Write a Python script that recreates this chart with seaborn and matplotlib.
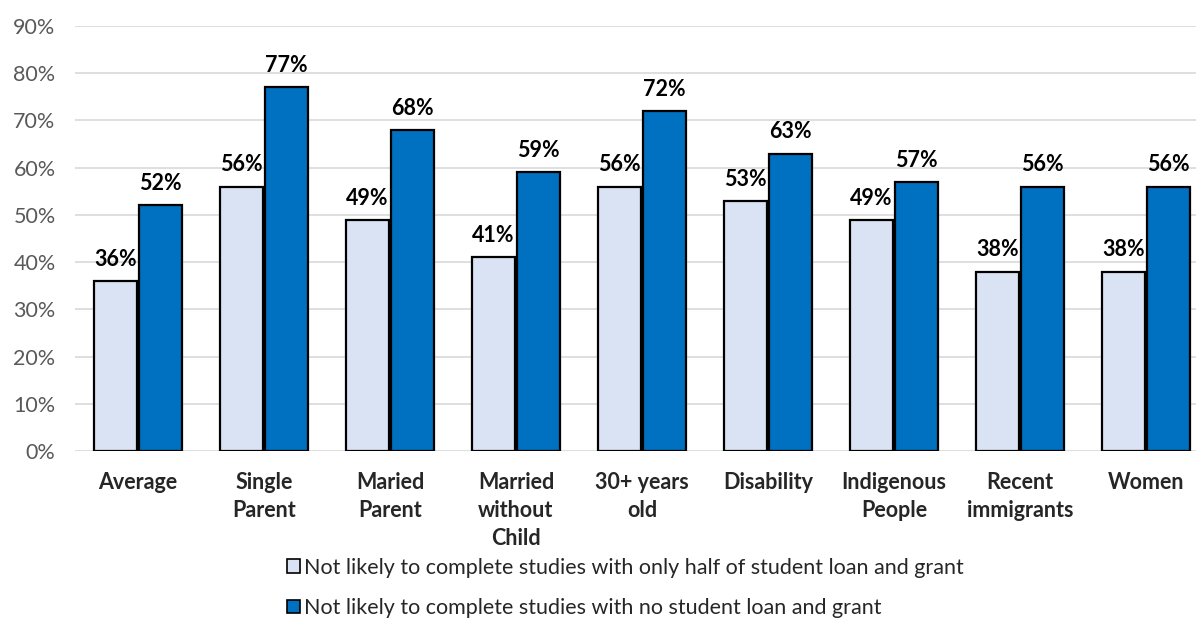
import pandas as pd
import numpy as np
import matplotlib.pyplot as plt
import seaborn as sns
from matplotlib.patches import Patch

# data
categories = ["Average", "Single\nParent", "Maried\nParent", "Married\nwithout\nChild",
              "30+ years\nold", "Disability", "Indigenous\nPeople", "Recent\nimmigrants", "Women"]
half_loan = [36, 56, 49, 41, 56, 53, 49, 38, 38]
no_loan = [52, 77, 68, 59, 72, 63, 57, 56, 56]
series_names = ["Not likely to complete studies with only half of student loan and grant",
                "Not likely to complete studies with no student loan and grant"]
colors = ["#DAE3F3", "#0070C0"]

df = pd.DataFrame({
    "cat": categories * 2,
    "val": half_loan + no_loan,
    "series": [series_names[0]] * len(categories) + [series_names[1]] * len(categories),
})

sns.set_style("white")
plt.rcParams['font.family'] = ['Lato', 'DejaVu Sans']

fig = plt.figure(figsize=(11.96, 6.18), dpi=100)
ax = fig.add_axes([75/1196, 1 - 451/618, (1209 - 75)/1196, (451 - 26)/618])

sns.barplot(data=df, x="cat", y="val", hue="series", palette=colors, saturation=1,
            width=0.72, gap=0.06, edgecolor="black", linewidth=1.6,
            legend=False, ax=ax, zorder=3)

for c in ax.containers:
    ax.bar_label(c, labels=[f"{v:.0f}%" for v in c.datavalues], padding=8,
                 fontsize=15.5, fontweight="bold", color="black")

ax.set_ylim(0, 90)
ax.set_xlim(-0.5, 8.5)
ax.set_yticks(range(0, 91, 10))
ax.set_yticklabels([f"{t}%" for t in range(0, 91, 10)], fontsize=15.5, color="#595959")
ax.set_xticks(range(len(categories)))
ax.set_xticklabels(categories, fontsize=15.5, fontweight="bold", linespacing=1.42)
ax.tick_params(axis="both", length=0)
ax.tick_params(axis="x", pad=15)
ax.tick_params(axis="y", pad=14)
ax.yaxis.grid(True, color="#D9D9D9", linewidth=1.2, zorder=0)
ax.set_axisbelow(True)
ax.set_xlabel("")
ax.set_ylabel("")
sns.despine(ax=ax, left=True, bottom=True)

handles = [Patch(facecolor=colors[0], edgecolor="black", linewidth=1.2),
           Patch(facecolor=colors[1], edgecolor="black", linewidth=1.2)]
fig.legend(handles, series_names, loc="upper left", bbox_to_anchor=(278/1196, 1 - 549/618),
           frameon=False, fontsize=15.5, handlelength=0.6, handleheight=0.6,
           handletextpad=0.2, labelspacing=0.95, borderaxespad=0)

fig.savefig("out.png", dpi=100)
